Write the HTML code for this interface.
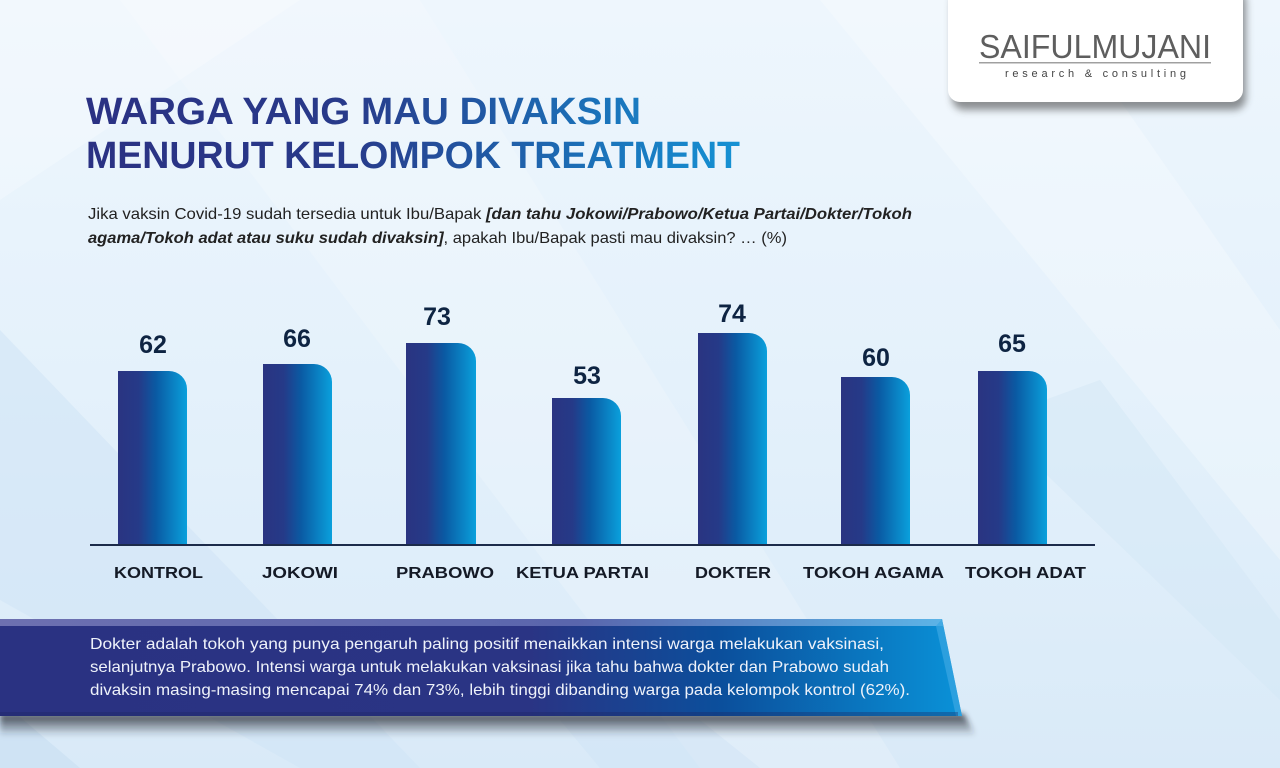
<!DOCTYPE html>
<html><head><meta charset="utf-8"><style>
html,body{margin:0;padding:0;width:1280px;height:768px;overflow:hidden;background:#e3f0fa}
svg{display:block}
</style></head><body>
<svg width="1280" height="768" viewBox="0 0 1280 768" xmlns="http://www.w3.org/2000/svg">
<defs>
<linearGradient id="bg" x1="0" y1="0" x2="0" y2="1">
<stop offset="0" stop-color="#eef6fd"/><stop offset="0.5" stop-color="#e4f1fb"/><stop offset="1" stop-color="#d9eaf8"/>
</linearGradient>
<linearGradient id="bar" x1="0" y1="0" x2="1" y2="0">
<stop offset="0" stop-color="#2a3481"/><stop offset="0.3" stop-color="#253a88"/><stop offset="0.55" stop-color="#0a5aa3"/><stop offset="1" stop-color="#0aa0dc"/>
</linearGradient>
<linearGradient id="ttl" gradientUnits="userSpaceOnUse" x1="86" y1="0" x2="740" y2="0">
<stop offset="0" stop-color="#2a3183"/><stop offset="0.4" stop-color="#283a8a"/><stop offset="0.75" stop-color="#1c6db5"/><stop offset="1" stop-color="#1592d4"/>
</linearGradient>
<linearGradient id="ban" gradientUnits="userSpaceOnUse" x1="0" y1="0" x2="962" y2="0">
<stop offset="0" stop-color="#2a3282"/><stop offset="0.55" stop-color="#2a3484"/><stop offset="0.75" stop-color="#0b4f9c"/><stop offset="1" stop-color="#0a92d8"/>
</linearGradient>
<linearGradient id="banTop" gradientUnits="userSpaceOnUse" x1="0" y1="0" x2="962" y2="0">
<stop offset="0" stop-color="#6d70b0"/><stop offset="0.6" stop-color="#5a66ad"/><stop offset="1" stop-color="#5cb8ea"/>
</linearGradient>
<linearGradient id="sh" x1="0" y1="0" x2="0" y2="1">
<stop offset="0" stop-color="#23262f" stop-opacity="0.85"/><stop offset="1" stop-color="#23262f" stop-opacity="0"/>
</linearGradient>
<filter id="blur" x="-10%" y="-50%" width="120%" height="200%"><feGaussianBlur stdDeviation="4"/></filter>
<filter id="blur2" x="-10%" y="-50%" width="120%" height="200%"><feGaussianBlur stdDeviation="3"/></filter>
</defs>

<!-- background -->
<rect width="1280" height="768" fill="url(#bg)"/>
<polygon points="0,330 0,600 300,768 420,768" fill="#cfe3f5" opacity="0.55"/>
<polygon points="0,700 0,768 80,768" fill="#c8ddf2" opacity="0.6"/>
<polygon points="120,0 420,0 900,768 700,768" fill="#ffffff" opacity="0.18"/>
<polygon points="820,0 1050,0 1280,330 1280,560" fill="#ffffff" opacity="0.25"/>
<polygon points="990,420 1100,380 1280,620 1280,700" fill="#d4e7f6" opacity="0.5"/>
<polygon points="560,720 700,720 760,768 600,768" fill="#cfe3f5" opacity="0.5"/>
<polygon points="0,0 300,0 0,200" fill="#ffffff" opacity="0.25"/>

<!-- logo box -->
<rect x="952" y="-10" width="294" height="120" rx="12" fill="#3a3a3a" opacity="0.55" filter="url(#blur)"/>
<rect x="948" y="-12" width="295" height="114" rx="12" fill="#ffffff"/>
<text x="979" y="58" font-family="Liberation Sans, sans-serif" font-size="33" fill="#5e5e5e" textLength="232" lengthAdjust="spacingAndGlyphs">SAIFULMUJANI</text>
<rect x="979" y="62" width="232" height="1.5" fill="#a0a0a0"/>
<text x="1005" y="77" font-family="Liberation Sans, sans-serif" font-size="11" fill="#444444" textLength="181" lengthAdjust="spacing">research &amp; consulting</text>

<!-- title -->
<text x="86" y="124" font-family="Liberation Sans, sans-serif" font-weight="bold" font-size="38" fill="url(#ttl)" textLength="555" lengthAdjust="spacingAndGlyphs">WARGA YANG MAU DIVAKSIN</text>
<text x="86" y="168" font-family="Liberation Sans, sans-serif" font-weight="bold" font-size="38" fill="url(#ttl)" textLength="654" lengthAdjust="spacingAndGlyphs">MENURUT KELOMPOK TREATMENT</text>

<!-- subtitle -->
<text x="88" y="219" font-family="Liberation Sans, sans-serif" font-size="16" fill="#222222" textLength="824" lengthAdjust="spacingAndGlyphs">Jika vaksin Covid-19 sudah tersedia untuk Ibu/Bapak <tspan font-weight="bold" font-style="italic">[dan tahu Jokowi/Prabowo/Ketua Partai/Dokter/Tokoh</tspan></text>
<text x="88" y="243" font-family="Liberation Sans, sans-serif" font-size="16" fill="#222222" textLength="699" lengthAdjust="spacingAndGlyphs"><tspan font-weight="bold" font-style="italic">agama/Tokoh adat atau suku sudah divaksin]</tspan>, apakah Ibu/Bapak pasti mau divaksin? … (%)</text>

<!-- bars -->
<g fill="url(#bar)">
<path d="M118,545 V371 H169 A18,18 0 0 1 187,389 V545 Z"/>
<path d="M263,545 V364 H314 A18,18 0 0 1 332,382 V545 Z"/>
<path d="M406,545 V343 H458 A18,18 0 0 1 476,361 V545 Z"/>
<path d="M552,545 V398 H603 A18,18 0 0 1 621,416 V545 Z"/>
<path d="M698,545 V333 H749 A18,18 0 0 1 767,351 V545 Z"/>
<path d="M841,545 V377 H892 A18,18 0 0 1 910,395 V545 Z"/>
<path d="M978,545 V371 H1029 A18,18 0 0 1 1047,389 V545 Z"/>
</g>
<rect x="90" y="544" width="1005" height="2" fill="#1c2b4a"/>

<!-- value labels -->
<g font-family="Liberation Sans, sans-serif" font-weight="bold" font-size="25" fill="#0e2442" text-anchor="middle">
<text x="153" y="353">62</text>
<text x="297" y="347">66</text>
<text x="437" y="325">73</text>
<text x="587" y="384">53</text>
<text x="732" y="322">74</text>
<text x="876" y="366">60</text>
<text x="1012" y="352">65</text>
</g>

<!-- category labels -->
<g font-family="Liberation Sans, sans-serif" font-weight="bold" font-size="16" fill="#141a26">
<text x="114" y="578" textLength="89" lengthAdjust="spacingAndGlyphs">KONTROL</text>
<text x="262" y="578" textLength="76" lengthAdjust="spacingAndGlyphs">JOKOWI</text>
<text x="396" y="578" textLength="98" lengthAdjust="spacingAndGlyphs">PRABOWO</text>
<text x="516" y="578" textLength="133" lengthAdjust="spacingAndGlyphs">KETUA PARTAI</text>
<text x="695" y="578" textLength="76" lengthAdjust="spacingAndGlyphs">DOKTER</text>
<text x="803" y="578" textLength="141" lengthAdjust="spacingAndGlyphs">TOKOH AGAMA</text>
<text x="965" y="578" textLength="121" lengthAdjust="spacingAndGlyphs">TOKOH ADAT</text>
</g>

<!-- banner -->
<polygon points="0,714 964,714 976,736 0,736" fill="url(#sh)" filter="url(#blur2)"/>
<polygon points="0,619 942,619 962,716 0,716" fill="url(#ban)"/>
<polygon points="0,619 942,619 943,626 0,626" fill="url(#banTop)"/>
<polygon points="942,619 962,716 956,716 936,626" fill="#3aa6e2" opacity="0.7"/>
<rect x="0" y="712" width="958" height="4" fill="#1c2460" opacity="0.35"/>
<g font-family="Liberation Sans, sans-serif" font-size="16" fill="#eef2fa">
<text x="90" y="649" textLength="794" lengthAdjust="spacingAndGlyphs">Dokter adalah tokoh yang punya pengaruh paling positif menaikkan intensi warga melakukan vaksinasi,</text>
<text x="90" y="672" textLength="799" lengthAdjust="spacingAndGlyphs">selanjutnya Prabowo. Intensi warga untuk melakukan vaksinasi jika tahu bahwa dokter dan Prabowo sudah</text>
<text x="90" y="695" textLength="820" lengthAdjust="spacingAndGlyphs">divaksin masing-masing mencapai 74% dan 73%, lebih tinggi dibanding warga pada kelompok kontrol (62%).</text>
</g>
</svg>
</body></html>
